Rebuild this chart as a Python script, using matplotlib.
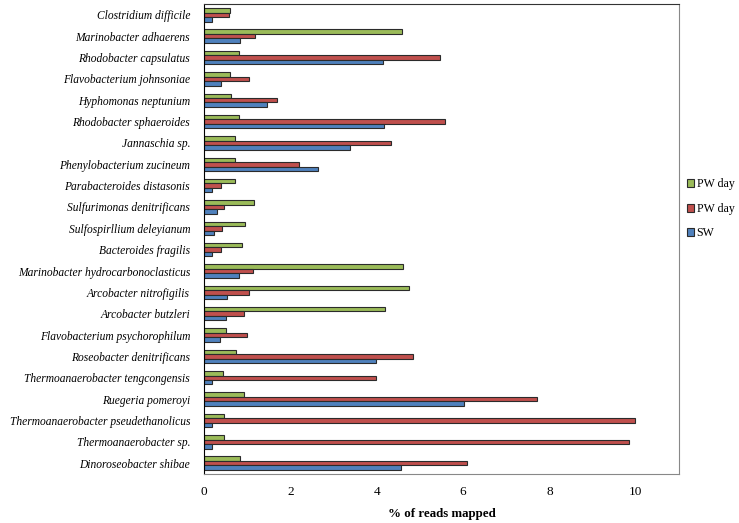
import numpy as np
import matplotlib
matplotlib.use("Agg")
import matplotlib.pyplot as pl

species = ["Clostridium difficile", "Marinobacter adhaerens",
           "Rhodobacter capsulatus", "Flavobacterium johnsoniae",
           "Hyphomonas neptunium", "Rhodobacter sphaeroides",
           "Jannaschia sp.", "Phenylobacterium zucineum",
           "Parabacteroides distasonis", "Sulfurimonas denitrificans",
           "Sulfospirllium deleyianum", "Bacteroides fragilis",
           "Marinobacter hydrocarbonoclasticus", "Arcobacter nitrofigilis",
           "Arcobacter butzleri", "Flavobacterium psychorophilum",
           "Roseobacter denitrificans", "Thermoanaerobacter tengcongensis",
           "Ruegeria pomeroyi", "Thermoanaerobacter pseudethanolicus",
           "Thermoanaerobacter sp.", "Dinoroseobacter shibae"]

pw_green = [0.61, 4.58, 0.80, 0.61, 0.62, 0.80, 0.71, 0.71, 0.71, 1.15, 0.94,
            0.88, 4.60, 4.75, 4.18, 0.51, 0.75, 0.45, 0.93, 0.47, 0.47, 0.84]
pw_red = [0.59, 1.17, 5.47, 1.04, 1.68, 5.59, 4.34, 2.19, 0.39, 0.46, 0.42,
          0.39, 1.14, 1.04, 0.93, 0.99, 4.83, 3.99, 7.72, 9.97, 9.83, 6.08]
sw = [0.19, 0.84, 4.14, 0.39, 1.45, 4.16, 3.39, 2.64, 0.19, 0.31, 0.24,
      0.19, 0.80, 0.53, 0.50, 0.37, 3.99, 0.19, 6.02, 0.19, 0.19, 4.57]

series = [("PW day", pw_green, "#9bbb59"),
          ("PW day", pw_red, "#c0504d"),
          ("SW", sw, "#4f81bd")]

pl.rcParams["font.family"] = "Liberation Serif"

fig = pl.figure(figsize=(7.39, 5.23), dpi=100)
ax = fig.add_axes([0.276, 0.094, 0.643, 0.898])

y = np.arange(len(species))
h = 0.21
for i, (name, vals, col) in enumerate(series):
    ax.barh(y + (i - 1) * h, vals, height=h, color=col, edgecolor="#2b2b2b",
            linewidth=0.8, label=name)

ax.set_ylim(len(species) - 0.5, -0.5)
ax.set_xlim(0, 11.0)
ax.set_xticks([0, 2, 4, 6, 8, 10])
ax.set_yticks(y)
ax.set_yticklabels(species, fontstyle="italic", fontsize=8.3)
ax.tick_params(axis="x", length=0, labelsize=9.5, pad=9)
ax.tick_params(axis="y", length=0, pad=10)
for s in ax.spines.values():
    s.set_color("#888888")
ax.spines["left"].set_color("black")
ax.spines["top"].set_color("#333333")

ax.set_xlabel("% of reads mapped", fontweight="bold", fontsize=9.3,
              labelpad=7)

leg = ax.legend(loc="center left", bbox_to_anchor=(0.998, 0.564),
                frameon=False, fontsize=8.6, handlelength=0.6,
                handleheight=0.6, handletextpad=0.25, labelspacing=1.05,
                borderaxespad=0.3)

fig.savefig("out.png", dpi=100)
